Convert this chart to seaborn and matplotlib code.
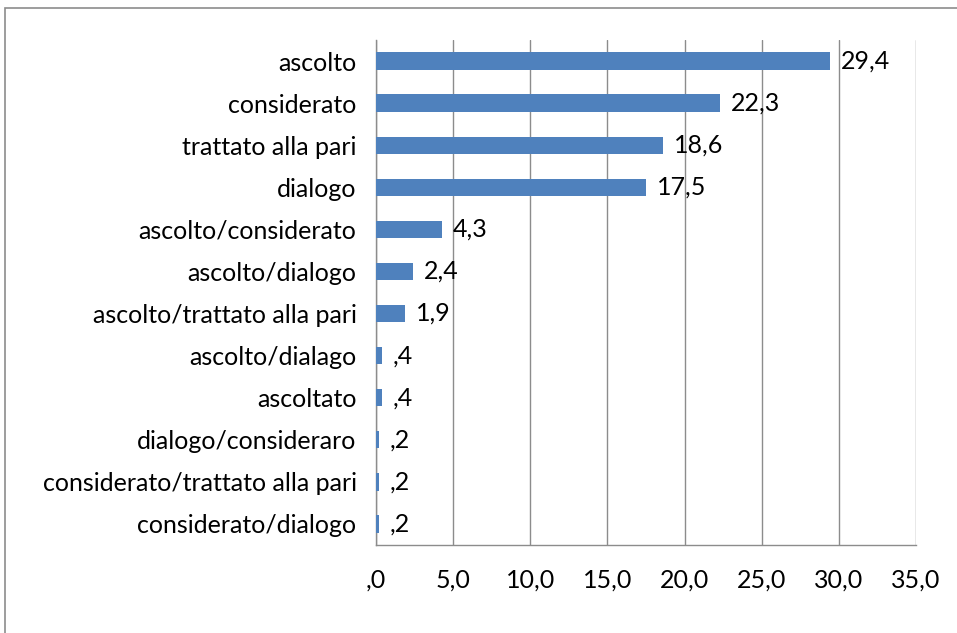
import matplotlib
matplotlib.use("Agg")
import matplotlib.pyplot as plt
import seaborn as sns
import pandas as pd
from matplotlib.patches import Rectangle

categories = ["ascolto", "considerato", "trattato alla pari", "dialogo",
              "ascolto/considerato", "ascolto/dialogo", "ascolto/trattato alla pari",
              "ascolto/dialago", "ascoltato", "dialogo/consideraro",
              "considerato/trattato alla pari", "considerato/dialogo"]
values = [29.4, 22.3, 18.6, 17.5, 4.3, 2.4, 1.9, 0.4, 0.4, 0.2, 0.2, 0.2]
xticks = [0, 5, 10, 15, 20, 25, 30, 35]

def fmt(v):
    s = f"{v:.1f}".replace(".", ",")
    if s.startswith("0"):
        s = s[1:]
    return s

sns.set_style("white")
plt.rcParams['font.family'] = ['Lato', 'DejaVu Sans']
plt.rcParams['text.color'] = 'black'
plt.rcParams['xtick.color'] = 'black'
plt.rcParams['ytick.color'] = 'black'

FS = 18

df = pd.DataFrame({"cat": categories, "val": values})
fig = plt.figure(figsize=(9.57, 6.33), dpi=100)
ax = fig.add_axes([376/957, 1 - 545/633, (916-376)/957, (545-40)/633])

sns.barplot(data=df, x="val", y="cat", orient="h", color="#4F81BD",
            saturation=1, width=0.41, linewidth=0, ax=ax, zorder=3)

ax.set_xlim(0, 35)
ax.set_ylim(len(categories) - 0.5, -0.5)
ax.set_xticks(xticks)
ax.set_xticklabels([fmt(t) for t in xticks], fontsize=FS)
ax.set_xlabel("")
ax.set_ylabel("")
ax.grid(axis="x", color="#8c8c8c", linewidth=1, zorder=0)
ax.grid(axis="y", visible=False)
for s in ["top", "right"]:
    ax.spines[s].set_visible(False)
for s in ["left", "bottom"]:
    ax.spines[s].set_color("#8c8c8c")
    ax.spines[s].set_linewidth(1)

ax.tick_params(axis="x", direction="out", length=5, color="#8c8c8c",
               labelcolor="black", pad=12, labelsize=FS)
ax.set_yticks(range(len(categories)))
ax.set_yticklabels(categories, fontsize=FS)
ax.tick_params(axis="y", length=0, pad=14, labelcolor="black")
ax.set_yticks([i + 0.5 for i in range(-1, len(categories))], minor=True)
ax.tick_params(axis="y", which="minor", direction="out", length=5, color="#8c8c8c")

for i, v in enumerate(values):
    ax.text(v + 0.7, i, fmt(v), va="center", ha="left", fontsize=FS, color="black")

fig.patches.append(Rectangle((5/957, -0.01), 1.0, 1 - 8/633 + 0.01, transform=fig.transFigure,
                             fill=False, edgecolor="#8c8c8c", linewidth=1.2))

fig.savefig("out.png", dpi=100)
